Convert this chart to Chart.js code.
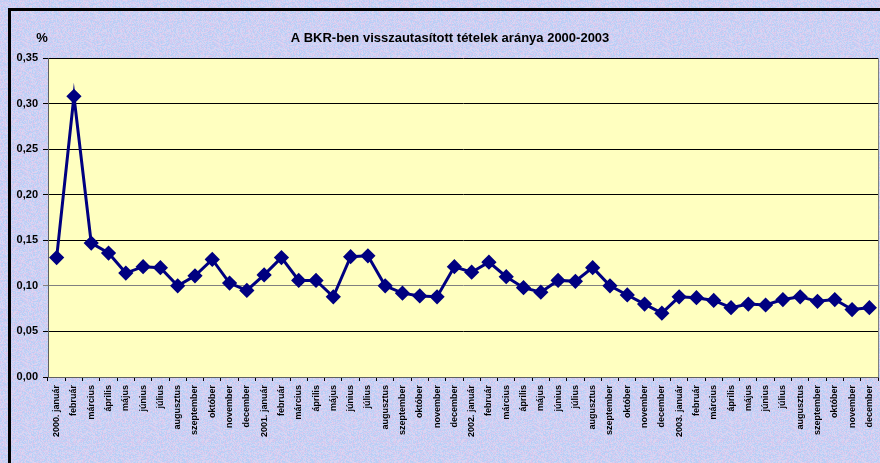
<!DOCTYPE html>
<html>
<head>
<meta charset="utf-8">
<script src="https://cdn.jsdelivr.net/npm/chart.js@4"></script>
<style>
  html, body { margin: 0; padding: 0; background: #c9d0f0; }
  #wrap { width: 880px; height: 463px; position: relative; }
</style>
</head>
<body>
<div id="wrap"><canvas id="myChart" width="880" height="463"></canvas></div>
<script>
"use strict";

let years = ["2000", "2001", "2002", "2003"];
let months = ["január", "február", "március", "április", "május", "június",
              "július", "augusztus", "szeptember", "október", "november", "december"];

// arány (%), havonta
let values2000 = [0.131, 0.308, 0.147, 0.136, 0.114, 0.121, 0.120, 0.100, 0.111, 0.129, 0.103, 0.095];
let values2001 = [0.112, 0.131, 0.106, 0.106, 0.088, 0.132, 0.133, 0.100, 0.092, 0.089, 0.088, 0.121];
let values2002 = [0.115, 0.126, 0.110, 0.098, 0.093, 0.106, 0.105, 0.120, 0.100, 0.090, 0.080, 0.070];
let values2003 = [0.088, 0.087, 0.084, 0.076, 0.080, 0.079, 0.085, 0.088, 0.083, 0.085, 0.074, 0.076];

let yTicks = [0, 0.05, 0.10, 0.15, 0.20, 0.25, 0.30, 0.35];
let title = "A BKR-ben visszautasított tételek aránya 2000-2003";

let labels = [];
for (let y = 0; y < years.length; y++) {
    for (let m = 0; m < months.length; m++) {
        labels.push(m == 0 ? years[y] + ". " + months[m] : months[m]);
    }
}
let values = values2000.concat(values2001, values2002, values2003);

// deterministic speckled background, like the Excel texture
function makeTexture() {
    let c = document.createElement("canvas");
    c.width = 64; c.height = 64;
    let g = c.getContext("2d");
    let img = g.createImageData(64, 64);
    let cols = [[196, 208, 244], [214, 200, 238], [184, 206, 246], [206, 214, 246], [222, 210, 240]];
    for (let i = 0; i < 64 * 64; i++) {
        let h = (i * 2654435761) >>> 0;
        h = ((h ^ (h >>> 13)) * 1274126177) >>> 0;
        let col = cols[h % cols.length];
        img.data[i * 4] = col[0];
        img.data[i * 4 + 1] = col[1];
        img.data[i * 4 + 2] = col[2];
        img.data[i * 4 + 3] = 255;
    }
    g.putImageData(img, 0, 0);
    return c;
}

let bgPlugin = {
    id: "bg",
    beforeDraw(chart) {
        let ctx = chart.ctx, a = chart.chartArea;
        ctx.save();
        ctx.fillStyle = ctx.createPattern(makeTexture(), "repeat");
        ctx.fillRect(0, 0, chart.width, chart.height);
        ctx.fillStyle = "#ffffc0";
        ctx.fillRect(a.left, a.top, a.right - a.left, a.bottom - a.top);
        // outer frame
        ctx.fillStyle = "#000";
        ctx.fillRect(8, 8, 3, chart.height);
        ctx.fillRect(8, 8, chart.width, 3);
        ctx.restore();
    },
    afterDraw(chart) {
        let ctx = chart.ctx, a = chart.chartArea;
        ctx.save();
        ctx.strokeStyle = "#808080";
        ctx.lineWidth = 1;
        ctx.beginPath();
        ctx.moveTo(a.right + 0.5, a.top);
        ctx.lineTo(a.right + 0.5, a.bottom);
        ctx.stroke();
        ctx.fillStyle = "#000";
        ctx.font = "bold 13px 'Liberation Sans', Arial, sans-serif";
        ctx.textAlign = "center";
        ctx.textBaseline = "middle";
        ctx.fillText(title, 450, 38);
        ctx.fillText("%", 42, 38);
        ctx.restore();
    }
};

let tickFont = { family: "'Liberation Sans', Arial, sans-serif", weight: "bold" };

new Chart(document.getElementById("myChart"), {
    type: "line",
    data: {
        labels: labels,
        datasets: [{
            data: values,
            borderColor: "#000080",
            backgroundColor: "#000080",
            borderWidth: 3,
            pointStyle: "rectRot",
            pointRadius: 5.5,
            pointBackgroundColor: "#000080",
            pointBorderColor: "#000080",
            tension: 0
        }]
    },
    options: {
        responsive: false,
        animation: false,
        devicePixelRatio: 1,
        layout: { autoPadding: false, padding: { top: 58, left: 0, right: 2, bottom: 0 } },
        plugins: { legend: { display: false }, tooltip: { enabled: false } },
        scales: {
            x: {
                offset: true,
                grid: { offset: true, drawOnChartArea: false, drawTicks: true, tickLength: 4, color: "#000" },
                border: { color: "#606060", width: 1 },
                ticks: {
                    autoSkip: false, maxRotation: 90, minRotation: 90, padding: 4,
                    color: "#000", font: Object.assign({ size: 9 }, tickFont)
                },
                afterFit: function (s) { s.height = 86; s.paddingLeft = 0; s.paddingRight = 0; }
            },
            y: {
                min: 0,
                max: 0.35,
                afterBuildTicks: function (s) { s.ticks = yTicks.map(v => ({ value: v })); },
                grid: {
                    color: function (c) { return (c.tick && Math.abs(c.tick.value - 0.10) < 1e-6) ? "#808080" : "#000"; },
                    tickLength: 5
                },
                border: { color: "#606060", width: 1 },
                ticks: {
                    padding: 5, color: "#000",
                    font: Object.assign({ size: 11 }, tickFont),
                    callback: function (v) { return v.toFixed(2).replace(".", ","); }
                },
                afterFit: function (s) { s.width = 48; s.paddingTop = 0; s.paddingBottom = 0; }
            }
        }
    },
    plugins: [bgPlugin]
});
</script>
</body>
</html>
